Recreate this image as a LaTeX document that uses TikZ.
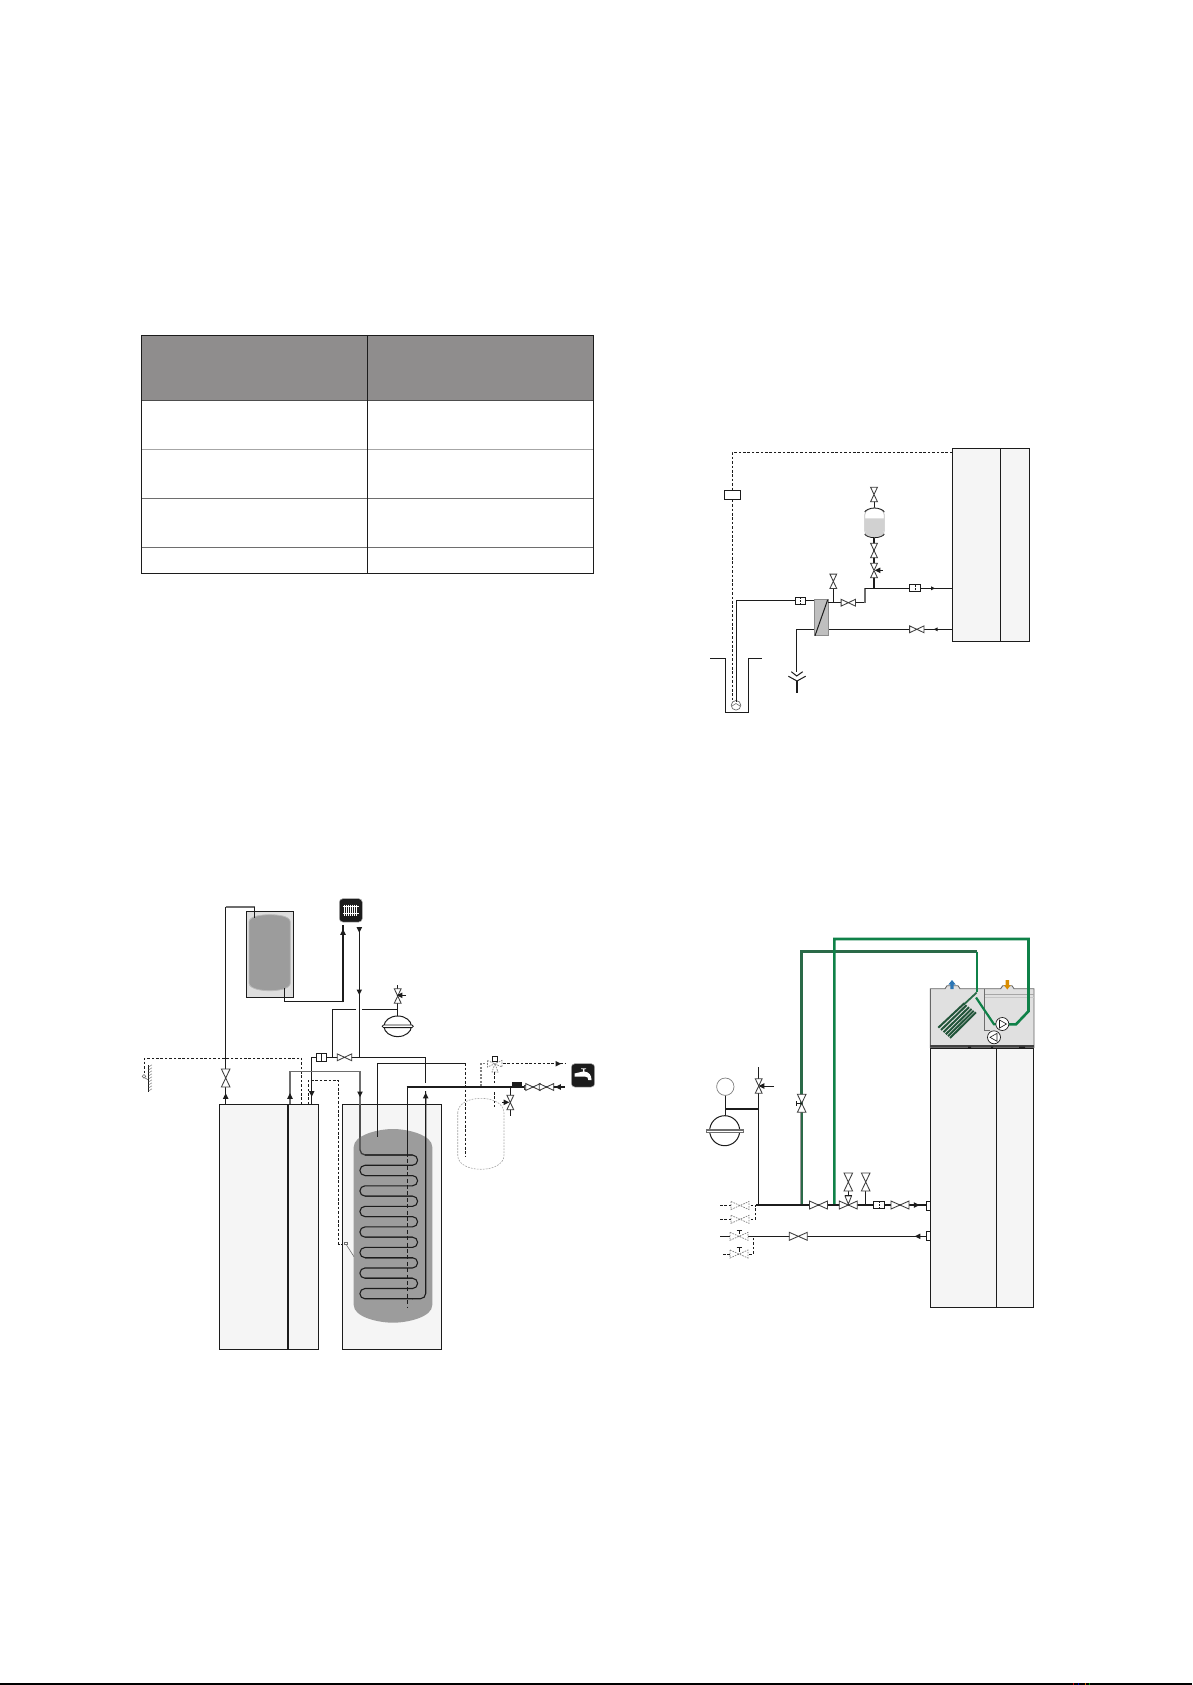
\documentclass[tikz,border=0pt]{standalone}
\usetikzlibrary{arrows.meta}
\definecolor{boxfill}{HTML}{F5F5F5}
\definecolor{ink}{HTML}{1C1C1C}
\definecolor{tankgray}{HTML}{9C9C9C}
\definecolor{hdr}{HTML}{8F8D8D}
\definecolor{gline}{HTML}{6E6E6E}
\definecolor{green1}{HTML}{0F8148}
\definecolor{green2}{HTML}{2A6A48}
\tikzset{
 pipe/.style={draw=ink,line width=1pt},
 fat/.style={draw=ink,line width=2pt},
 graypipe/.style={draw=gline,line width=1.5pt},
 dashpipe/.style={draw=ink,line width=.8pt,dash pattern=on 2.6pt off 1.8pt},
 unitbox/.style={draw=ink,line width=1pt,fill=boxfill},
 valve/.style={draw=ink!85,line width=.85pt,fill=white},
 ghost/.style={draw=black!50,line width=.7pt,dash pattern=on 1.6pt off 1.1pt,fill=white},
 filterb/.style={draw=ink,line width=.9pt,fill=white},
 tip/.style={fill=ink,draw=none},
 greenA/.style={draw=green1,line width=2.6pt},
 greenB/.style={draw=green2,line width=2.6pt},
}
\newcommand{\HV}[3][valve]{\path[#1,shift={(#2,#3)}] (-7.2,-3.4)--(7.2,3.4)--(7.2,-3.4)--(-7.2,3.4)--cycle;}
\newcommand{\VV}[3][valve]{\path[#1,shift={(#2,#3)}] (-3.4,-7.2)--(3.4,7.2)--(-3.4,7.2)--(3.4,-7.2)--cycle;}
\newcommand{\VVB}[3][valve]{\path[#1,shift={(#2,#3)}] (-4.3,-9)--(4.3,9)--(-4.3,9)--(4.3,-9)--cycle;}
\newcommand{\HVB}[3][valve]{\path[#1,shift={(#2,#3)}] (-9,-4)--(9,4)--(9,-4)--(-9,4)--cycle;}
\newcommand{\TL}[2]{\path[tip,shift={(#1,#2)}] (-2.8,0)--(2.8,-2.8)--(2.8,2.8)--cycle;}
\newcommand{\TR}[2]{\path[tip,shift={(#1,#2)}] (2.8,0)--(-2.8,-2.8)--(-2.8,2.8)--cycle;}
\newcommand{\TU}[2]{\path[tip,shift={(#1,#2)}] (0,-2.8)--(-2.8,2.8)--(2.8,2.8)--cycle;}
\newcommand{\TD}[2]{\path[tip,shift={(#1,#2)}] (0,2.8)--(-2.8,-2.8)--(2.8,-2.8)--cycle;}
\newcommand{\TLs}[2]{\path[tip,shift={(#1,#2)}] (-2,0)--(2,-2)--(2,2)--cycle;}
\newcommand{\TRs}[2]{\path[tip,shift={(#1,#2)}] (2,0)--(-2,-2)--(-2,2)--cycle;}
\begin{document}
\begin{tikzpicture}[x=1pt,y=-1pt]
\useasboundingbox (0,0) rectangle (1192,1685);
\fill[white] (0,0) rectangle (1192,1685);
% page rule
\fill[black] (0,1683.4) rectangle (1192,1685);
\fill[red!80!black] (1073,1683.4) rectangle (1074,1685);
\fill[blue!70!black] (1077.5,1683.4) rectangle (1079,1685);
\fill[orange!80!black] (1085,1683.4) rectangle (1086,1685);
\fill[green!60!black] (1089,1683.4) rectangle (1090,1685);
% ---------- table
\fill[hdr] (141.7,335.7) rectangle (593.3,400);
\draw[gline!70!black,line width=1pt] (141.7,400)--(593.3,400);
\draw[gray!70,line width=1pt] (141.7,449)--(593.3,449);
\draw[gline,line width=.9pt] (141.7,498.3)--(593.3,498.3);
\draw[gline,line width=.9pt] (141.7,547.3)--(593.3,547.3);
\draw[ink,line width=1pt] (141.7,335.7) rectangle (593.3,573.7);
\draw[ink,line width=1pt] (367.3,335.7)--(367.3,573.7);
% ---------- left diagram
\path[draw=ink,line width=1pt,fill=black!13] (246.3,911.3) rectangle (293.7,997.3);
\path[fill=tankgray,draw=tankgray!70!white,line width=.8pt] (249,922) .. controls (249,916) and (262,914.7) .. (269.7,914.7) .. controls (278,914.7) and (290.3,916) .. (290.3,922) -- (290.3,983) .. controls (290.3,989) and (278,990.7) .. (269.7,990.7) .. controls (262,990.7) and (249,989) .. (249,983) -- cycle;
\draw[pipe] (225.7,1104.3)--(225.7,907);
\draw[graypipe] (225.7,907)--(254.7,907);
\draw[pipe] (254.7,907)--(254.7,918);
\VVB{225.7}{1078}
\TU{225.7}{1096}
\draw[pipe] (284.3,988)--(284.3,1001.3)--(343,1001.3);
\draw[fat] (343,1002.3)--(343,925);
\TU{343}{932}
\path[fill=ink,draw=black!30,line width=.5pt,rounded corners=3.5pt] (339.3,898.7) rectangle (362.3,922);
\foreach \i in {0,...,6} {\draw[white,line width=.8pt] (344.8+\i*2,904.5)--(344.8+\i*2,915.5);}
\draw[white,line width=.6pt] (343,906.5)--(358.5,906.5) (343,913.5)--(358.5,913.5);
\draw[pipe] (359.3,926.7)--(359.3,1057.3);
\TD{359.3}{930} \TD{359.3}{992.3}
\draw[pipe] (332.7,1057.3)--(332.7,1009.3)--(356,1009.3);
\draw[pipe] (362,1009.3)--(397.7,1009.3);
\draw[pipe] (397.7,985.3)--(397.7,1016.7);
\VV{397.7}{996}
\draw[pipe] (406,995.3)--(400,995.3); \TL{399.5}{995.3}
\path[draw=ink,line width=1pt,fill=white] (397.7,1026.3) ellipse (13.7 and 10.3);
\path[draw=ink,line width=.8pt,fill=white] (383.5,1025)--(412,1025) arc[start angle=-90,end angle=90,radius=1.3]--(383.5,1027.6) arc[start angle=90,end angle=270,radius=1.3]--cycle;
\draw[pipe] (311.7,1104.3)--(311.7,1057.3)--(316.3,1057.3);
\TD{311.7}{1094}
\path[filterb] (316.3,1053.3) rectangle (326.7,1061.7);
\draw[ink,line width=.8pt] (321.5,1053.3)--(321.5,1061.7);
\draw[pipe] (326.7,1057.3)--(425.7,1057.3);
\HV{344.5}{1057.3}
\draw[pipe] (425.7,1057.3)--(425.7,1083);
\draw[pipe] (425.7,1091)--(425.7,1293.5) arc[start angle=0,end angle=90,radius=5.2]--(365,1298.7);
% dashed lines
\draw[dashpipe] (301.7,1104.3)--(301.7,1058.3)--(144.3,1058.3)--(144.3,1074);
\path[draw=gline,line width=.6pt,fill=white] (144,1076.3) circle (1.8);
\draw[gline,line width=.6pt] (145,1078)--(148.7,1080);
\draw[ink,line width=.9pt] (148.7,1065.3)--(148.7,1091.7);
\foreach \i in {0,...,8} {\draw[gray,line width=.5pt] (148.7,1066.8+\i*3)--(152,1064.8+\i*3);}
\draw[dashpipe] (308.3,1104.3)--(308.3,1080.5)--(338.7,1080.5)--(338.7,1244)--(344.5,1244);
% heat pump box
\path[unitbox] (219.3,1104.3) rectangle (318.5,1349.3);
\path[unitbox] (342.3,1104.3) rectangle (441.7,1349.3);
\draw[ink,line width=1.8pt] (288,1104.3)--(288,1349.3);
\draw[graypipe] (290,1104.3)--(290,1071.7)--(360,1071.7)--(360,1150);
\TU{290}{1096} \TD{360}{1094.3}
% storage tank
\path[fill=tankgray] (353.7,1147) .. controls (353.7,1135) and (378,1129) .. (393,1129) .. controls (408,1129) and (432.3,1135) .. (432.3,1147) -- (432.3,1305) .. controls (432.3,1317) and (408,1322.7) .. (393,1322.7) .. controls (378,1322.7) and (353.7,1317) .. (353.7,1305) -- cycle;
\draw[draw=gline!40!ink,line width=1.3pt] (360,1104.3)--(360,1149.8) arc[start angle=180,end angle=90,radius=5.2]--(412.5,1155);
\foreach \i in {0,2,...,12} {
  \pgfmathsetmacro{\ya}{1155+10.27*\i}
  \pgfmathsetmacro{\yb}{1155+10.27*(\i+1)}
  \pgfmathsetmacro{\yc}{1155+10.27*(\i+2)}
  \draw[ink,line width=1.1pt] (365,\ya)--(412.5,\ya) arc[start angle=-90,end angle=90,radius=5.135]--(365,\yb) arc[start angle=270,end angle=90,radius=5.135]--(412.5,\yc);
}
\draw[ink,line width=1.1pt] (412,1298.7)--(420.5,1298.7) arc[start angle=90,end angle=0,radius=5.2]--(425.7,1095);
\TU{425.7}{1095.5}
\draw[pipe] (377.7,1136.7)--(377.7,1063.3)--(465.7,1063.3);
\draw[dashpipe] (465.7,1063.3)--(465.7,1156.7);
% sensor
\path[draw=gline,line width=.5pt,fill=white] (344.3,1242) rectangle ++(2.6,2.6);
\draw[gline,line width=.6pt] (346.5,1245)--(354,1256.7);
% dashed vessel
\path[draw=gray!70,line width=.6pt,dash pattern=on 1.8pt off 1.2pt] (457.7,1113) .. controls (457.7,1103) and (470,1098.3) .. (481,1098.3) .. controls (492,1098.3) and (504,1103) .. (504,1113)--(504,1155) .. controls (504,1165) and (492,1169.3) .. (481,1169.3) .. controls (470,1169.3) and (457.7,1165) .. (457.7,1155)--cycle;
% hot line
\draw[pipe] (407.7,1087)--(407.7,1153);
\draw[ink,line width=1pt,dash pattern=on 4pt off 2.4pt] (407.7,1153)--(407.7,1306.7);
\draw[fat] (406.7,1087)--(512.3,1087);
\fill[ink] (512.3,1082.3) rectangle (521.7,1088);
\draw[fat] (521.7,1087)--(565,1087);
\TL{558}{1087}
\path[valve] (524.5,1085)rectangle(527,1089);
\HV{533}{1087}\HV{546.5}{1087}
\draw[pipe] (510.3,1087)--(510.3,1115.7);
\VV{510.3}{1102.5}
\draw[pipe] (502,1102.3)--(506,1102.3); \TR{506.5}{1102.3}
\path[draw=gray,line width=1.4pt,dash pattern=on 2pt off 1.5pt] (481,1086)--(481,1063.7)--(487,1063.7);
\draw[dashpipe,line width=1pt] (503,1063.7)--(565.6,1063.7);
\TR{558.3}{1063.7}
\path[ghost] (487.5,1060.5)--(502,1067)--(502,1060.5)--(487.5,1067)--cycle;
\path[draw=ink,line width=.8pt,fill=white] (492.3,1056.3) rectangle (497.7,1061.3);
\path[ghost] (495,1063.7)--(492,1072)--(498,1072)--cycle;
\draw[dashpipe] (494.6,1072)--(494.6,1084);
\draw[dashpipe] (494.6,1092)--(494.6,1106.7);
% tap icon
\path[fill=ink,draw=black!30,line width=.5pt,rounded corners=3.5pt] (571.3,1063.7) rectangle (594.7,1087);
\path[fill=white] (574.5,1073.5)--(583,1071.5)--(583,1069.3)--(581,1069)--(581,1068.3)--(586,1068.3)--(586,1069)--(584.3,1069.3)--(584.3,1071.5) .. controls (589,1072) and (591.5,1075) .. (591.5,1080)--(588.3,1080) .. controls (588.3,1078) and (587.5,1076.5) .. (585,1076.5)--(574.5,1076.5)--cycle;
% ---------- top right diagram
\path[unitbox] (952.3,448.3) rectangle (1029.7,641.3);
\draw[pipe] (1000.3,448.3)--(1000.3,641.3);
\draw[dashpipe] (952.3,452.3)--(732.3,452.3)--(732.3,490.3);
\draw[dashpipe] (732.3,499.7)--(732.3,703);
\path[draw=ink,line width=1pt,fill=white] (724.3,490.3) rectangle (740.7,499.7);
\draw[pipe] (710.3,658.7)--(725.7,658.7)--(725.7,712.7)--(748.3,712.7)--(748.3,658.7)--(761.7,658.7);
\path[draw=gline,line width=.7pt,fill=white] (736,705.3) circle (4.8);
\draw[gline,line width=.6pt] (732,706)--(736,703.5)--(740,706);
\draw[pipe] (736.3,701.7)--(736.3,600.3)--(795,600.3);
\path[filterb] (795,597.3) rectangle (805.7,604.3);
\draw[ink,line width=.7pt,dash pattern=on 2pt off 1pt] (800.3,597.3)--(800.3,604.3);
\draw[pipe] (805.7,600.3)--(814.3,600.3);
\draw[pipe] (814.3,629.3)--(796.3,629.3)--(796.3,671.7);
\draw[ink,line width=1pt] (791.3,671.7)--(796.7,676)--(802.7,671.7);
\draw[ink,line width=1pt] (788.3,676.2)--(797,681)--(805.7,676.2);
\draw[ink,line width=1.5pt] (797,681)--(797,692.7);
\draw[graypipe] (828.3,629.3)--(952.3,629.3);
\draw[pipe] (828.3,629.3)--(952.3,629.3);
\HV{916.8}{629.3}\TLs{935.7}{629.3}
\path[draw=gray!90,line width=1pt,fill=black!25] (814.3,599) rectangle (828.3,635.7);
\draw[ink,line width=1pt] (815,635.7)--(827.7,599.7);
\draw[pipe] (828.3,602.7)--(841,602.7);
\HV{848.3}{602.7}
\draw[pipe] (855.7,602.7)--(865,602.7);
\draw[graypipe] (865,603.4)--(865,588.3);
\draw[pipe] (865,588.3)--(952.3,588.3);
\path[filterb] (909.3,584.7) rectangle (920.7,591.7);
\draw[ink,line width=.7pt,dash pattern=on 2pt off 1pt] (915,584.7)--(915,591.7);
\TRs{933}{588.3}
\draw[pipe] (833.3,581)--(833.3,602.7);
\VV{833.3}{581.3}
\draw[ink,line width=1.8pt] (874,588.3)--(874,576);
\draw[ink,line width=1.4pt] (874,563)--(874,537);
\VV{874}{570.5}\VV{874}{550.5}
\draw[pipe] (882.5,570.3)--(878,570.3); \TL{877.5}{570.3}
\draw[pipe] (874,508)--(874,499);
\VV{874}{494.5}
\path[fill=white,draw=gray!50,line width=.8pt] (864.7,515) .. controls (864.7,510.5) and (870,508) .. (874.5,508) .. controls (879,508) and (884.3,510.5) .. (884.3,515)--(884.3,530.7) .. controls (884.3,535.2) and (879,537.7) .. (874.5,537.7) .. controls (870,537.7) and (864.7,535.2) .. (864.7,530.7)--cycle;
\path[fill=black!18] (865.2,518.3)--(883.8,518.3)--(883.8,530.7) .. controls (883.8,535) and (879,537.2) .. (874.5,537.2) .. controls (870,537.2) and (865.2,535) .. (865.2,530.7)--cycle;
\draw[ink,line width=.8pt] (864.7,512)  .. controls (865.5,510) and (870,508) .. (874.5,508) .. controls (879,508) and (883.5,510) .. (884.3,512);
\draw[ink,line width=.8pt] (864.7,534)  .. controls (865.5,536) and (870,537.7) .. (874.5,537.7) .. controls (879,537.7) and (883.5,536) .. (884.3,534);
% ---------- bottom right diagram
\path[unitbox] (930.3,1048.3) rectangle (1033.5,1307);
\draw[pipe] (996.3,1048.3)--(996.3,1307);
\path[fill=black!12,draw=gray!80!black,line width=.9pt] (930.3,988.7)--(945,988.7)--(947,985.7)--(958,985.7)--(960,988.7)--(1000.7,988.7)--(1002.7,985.7)--(1012,985.7)--(1014,988.7)--(1034,988.7)--(1034,1047.3)--(930.3,1047.3)--cycle;
\fill[gline!60!black] (930.3,1044.7)rectangle(1034,1046.7);
\fill[ink] (968,1046.7)rectangle(971,1048) (991,1046.7)rectangle(993,1048) (1019,1046.7)rectangle(1025,1048);
\draw[gray!70,line width=1pt] (984.7,994.5)--(1034,994.5);
\draw[gray!45,line width=1pt] (984.7,997)--(1034,997);
\draw[gline,line width=1pt] (984.7,988.7)--(984.7,1030.7)--(990,1030.7);
% coil
\draw[greenB,line width=1.8pt] (976.7,992.5)--(963.3,1005);
\foreach \xa/\ya/\xb/\yb in {938.3/1027.7/964.3/1003.3, 941/1030/966.5/1005.2, 943.5/1032.2/969/1007.2, 945.8/1034.3/971.5/1009, 948/1036.2/973.7/1010.8, 950/1038/976/1012.3}{
  \draw[green2!80!black,line width=2pt] (\xa,\ya)--(\xb,\yb);
}
% arrows in top unit
\path[fill=cyan!60!blue!85!black,draw=none] (950.3,989)--(950.3,984.5)--(948.4,984.5)--(952,980)--(955.6,984.5)--(953.7,984.5)--(953.7,989)--cycle;
\path[fill=orange!70!yellow!85!black,draw=none] (1005.6,980)--(1005.6,985)--(1003.8,985)--(1007.3,989.5)--(1010.8,985)--(1009,985)--(1009,980)--cycle;
% green pipes
\draw[greenB] (801.7,1205)--(801.7,951.7)--(976.7,951.7);
\draw[greenA,line width=2.2pt] (976.7,951.7)--(976.7,992);
\draw[greenA] (834.3,1205)--(834.3,939)--(1028.5,939)--(1028.5,1011.2)--(1016,1024.3)--(1008.5,1024.3);
\draw[greenA,line width=2.2pt] (976,997.5)--(994,1024.3)--(996.5,1024.3);
\path[draw=ink,line width=.7pt,fill=white] (1002.3,1024) circle (6.5);
\draw[ink,line width=.6pt] (999.5,1020)--(1006.5,1024)--(999.5,1028)--cycle;
\path[draw=ink,line width=.7pt,fill=white] (994,1037.3) circle (6.5);
\draw[ink,line width=.6pt] (997,1033.3)--(990,1037.3)--(997,1041.3)--cycle;
\draw[gray!80,line width=.7pt] (800.3,1205)--(800.3,1112);
\VVB{801.7}{1103.3}
\draw[pipe] (796.5,1103.3)--(801.7,1103.3) (796.5,1101)--(796.5,1105.5);
% main lines
\draw[fat] (756,1205)--(926.7,1205);
\draw[pipe] (720,1236.3)--(926.7,1236.3);
\HVB{818.5}{1205}
\HVB{848.3}{1205}
\draw[pipe] (848.3,1186)--(848.3,1205);
\VVB{848.3}{1182}
\path[valve] (845,1196)--(851.5,1196)--(848.3,1204)--cycle;
\draw[ink,line width=.8pt] (844.5,1195.5)--(852,1195.5);
\draw[pipe] (865.7,1186)--(865.7,1205);
\VVB{865.7}{1182}
\path[filterb] (873.3,1201.3) rectangle (884.7,1208.7);
\draw[ink,line width=.7pt,dash pattern=on 2pt off 1pt] (879,1201.3)--(879,1208.7);
\HVB{900}{1205}
\TR{916.7}{1205}
\path[filterb] (926.3,1201.3) rectangle (930.7,1210.3);
\HVB{798.3}{1236.3}
\TL{917.5}{1236.3}
\path[filterb] (926.3,1231.7) rectangle (930.7,1240.3);
% expansion left
\draw[pipe] (758.7,1205)--(758.7,1067.3);
\VV{758.7}{1086}
\draw[pipe] (774,1086)--(762,1086); \TL{761.5}{1086}
\draw[ink,line width=1.8pt] (725.3,1109)--(759.3,1109);
\draw[pipe] (725.3,1095.4)--(725.3,1116);
\path[draw=gray,line width=.7pt,fill=white] (725.3,1086.7) circle (8.7);
\path[draw=ink,line width=1pt,fill=white] (724.7,1130.7) circle (15);
\path[draw=gline,line width=.8pt,fill=white] (706.5,1129.3) rectangle (743,1132.3);
\draw[gline,line width=1.4pt] (706,1130.7)--(744,1130.7);
% ghost valves
\draw[dashpipe] (720,1205.5)--(756,1205.5);
\draw[dashpipe] (720,1219.3)--(755.7,1219.3)--(755.7,1205.5);
\HVB[ghost]{740}{1205.5}
\HVB[ghost]{740}{1219.3}
\draw[dashpipe] (723,1254)--(753.3,1254)--(753.3,1236.3);
\HVB[ghost]{739}{1236.3}
\HVB[ghost]{739}{1254}
\draw[ink,line width=.7pt] (736.5,1230)--(741.5,1230) (739,1230)--(739,1234);
\draw[ink,line width=.7pt] (736.5,1247.5)--(741.5,1247.5) (739,1247.5)--(739,1251.5);
\end{tikzpicture}
\end{document}
